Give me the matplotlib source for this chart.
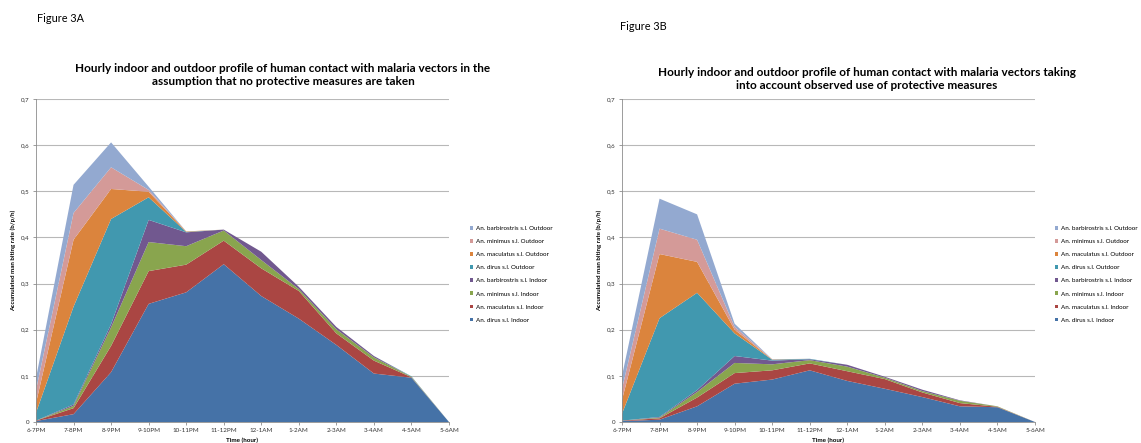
import matplotlib
matplotlib.use("Agg")
import matplotlib.pyplot as plt
from matplotlib.patches import Patch

plt.rcParams['font.family'] = ['Lato', 'DejaVu Sans']

hours = ["6-7PM", "7-8PM", "8-9PM", "9-10PM", "10-11PM", "11-12PM",
         "12-1AM", "1-2AM", "2-3AM", "3-4AM", "4-5AM", "5-6AM"]

series_names = ["An. dirus s.l. Indoor", "An. maculatus s.l. Indoor",
                "An. minimus s.l. Indoor", "An. barbirostris s.l. Indoor",
                "An. dirus s.l. Outdoor", "An. maculatus s.l. Outdoor",
                "An. minimus s.l. Outdoor", "An. barbirostris s.l. Outdoor"]

colors = ["#4572A7", "#AA4643", "#89A54E", "#71588F",
          "#4198AF", "#DB843D", "#D49A98", "#93A9D0"]

# Figure 3A: no protective measures
a_dirus_in = [0.002, 0.017, 0.108, 0.256, 0.281, 0.342, 0.273, 0.224, 0.167, 0.105, 0.096, 0]
a_macul_in = [0.001, 0.013, 0.057, 0.071, 0.060, 0.051, 0.060, 0.060, 0.025, 0.028, 0.001, 0]
a_minim_in = [0.000, 0.005, 0.040, 0.063, 0.040, 0.022, 0.018, 0.004, 0.009, 0.007, 0.001, 0]
a_barbi_in = [0.000, 0.003, 0.007, 0.048, 0.030, 0.002, 0.018, 0.005, 0.005, 0.003, 0.000, 0]
a_dirus_out = [0.017, 0.212, 0.228, 0.049, 0.001, 0.000, 0.000, 0.000, 0.000, 0.000, 0.001, 0]
a_macul_out = [0.021, 0.145, 0.065, 0.012, 0.001, 0.000, 0.000, 0.000, 0.000, 0.000, 0.000, 0]
a_minim_out = [0.028, 0.058, 0.047, 0.004, 0.000, 0.000, 0.000, 0.000, 0.000, 0.000, 0.000, 0]
a_barbi_out = [0.026, 0.061, 0.054, 0.007, 0.000, 0.000, 0.000, 0.000, 0.000, 0.000, 0.000, 0]

# Figure 3B: observed use of protective measures
b_dirus_in = [0.002, 0.005, 0.034, 0.083, 0.092, 0.112, 0.089, 0.072, 0.054, 0.034, 0.032, 0]
b_macul_in = [0.001, 0.003, 0.019, 0.023, 0.020, 0.015, 0.021, 0.021, 0.010, 0.007, 0.001, 0]
b_minim_in = [0.000, 0.0015, 0.012, 0.022, 0.013, 0.007, 0.010, 0.003, 0.003, 0.005, 0.001, 0]
b_barbi_in = [0.000, 0.0015, 0.004, 0.015, 0.008, 0.002, 0.004, 0.002, 0.003, 0.001, 0.000, 0]
b_dirus_out = [0.015, 0.214, 0.211, 0.049, 0.002, 0.001, 0.000, 0.000, 0.000, 0.000, 0.000, 0]
b_macul_out = [0.030, 0.139, 0.067, 0.008, 0.0005, 0.000, 0.000, 0.000, 0.000, 0.000, 0.000, 0]
b_minim_out = [0.024, 0.055, 0.048, 0.006, 0.0005, 0.000, 0.000, 0.000, 0.000, 0.000, 0.000, 0]
b_barbi_out = [0.028, 0.065, 0.055, 0.007, 0.000, 0.000, 0.000, 0.000, 0.000, 0.000, 0.000, 0]

y_ticks = [0, 0.1, 0.2, 0.3, 0.4, 0.5, 0.6, 0.7]
y_tick_labels = ["0", "0,1", "0,2", "0,3", "0,4", "0,5", "0,6", "0,7"]

W, H = 1141, 443
fig = plt.figure(figsize=(W / 100, H / 100), dpi=100)


def draw_panel(left_px, data, fig_label, fig_label_xy, title, title_xy, legend_xy):
    ax = fig.add_axes([left_px / W, (H - 422) / H, 413 / W, 323 / H])
    x = list(range(len(hours)))
    ax.stackplot(x, *data, colors=colors, linewidth=0)
    ax.set_xlim(0, len(hours) - 1)
    ax.set_ylim(0, 0.7)
    ax.set_yticks(y_ticks)
    ax.set_yticklabels(y_tick_labels, fontsize=4.5, color="#333333")
    ax.set_xticks(x)
    ax.set_xticklabels(hours, fontsize=4.5, color="#333333")
    ax.tick_params(axis="both", length=2.5, width=0.6, color="#8c8c8c", pad=2)
    ax.yaxis.grid(True, color="#b8b8b8", linewidth=0.8)
    ax.set_axisbelow(True)
    for s in ["top", "right"]:
        ax.spines[s].set_visible(False)
    for s in ["left", "bottom"]:
        ax.spines[s].set_color("#8c8c8c")
        ax.spines[s].set_linewidth(0.6)
    ax.set_ylabel("Accumulated man biting rate (b/p/h)", fontsize=4.5,
                  fontweight="bold", labelpad=4)
    ax.set_xlabel("Time (hour)", fontsize=4.5, fontweight="bold", labelpad=3)
    fig.text(fig_label_xy[0] / W, 1 - fig_label_xy[1] / H, fig_label,
             fontsize=7.8, ha="left", va="center")
    fig.text(title_xy[0] / W, 1 - title_xy[1] / H, title, fontsize=8.5,
             fontweight="bold", ha="center", va="center", linespacing=1.25)
    handles = [Patch(facecolor=c, edgecolor="none") for c in colors][::-1]
    labels = series_names[::-1]
    fig.legend(handles, labels, loc="upper left",
               bbox_to_anchor=(legend_xy[0] / W, 1 - legend_xy[1] / H),
               fontsize=4.5, frameon=False, handlelength=0.55,
               handleheight=0.55, handletextpad=0.4, labelspacing=1.28,
               borderaxespad=0, borderpad=0)
    return ax


draw_panel(36,
           [a_dirus_in, a_macul_in, a_minim_in, a_barbi_in,
            a_dirus_out, a_macul_out, a_minim_out, a_barbi_out],
           "Figure 3A", (37, 19),
           "Hourly indoor and outdoor profile of human contact with malaria vectors in the\n"
           "assumption that no protective measures are taken",
           (283, 75), (470, 226))

draw_panel(622,
           [b_dirus_in, b_macul_in, b_minim_in, b_barbi_in,
            b_dirus_out, b_macul_out, b_minim_out, b_barbi_out],
           "Figure 3B", (620, 27),
           "Hourly indoor and outdoor profile of human contact with malaria vectors taking\n"
           "into account observed use of protective measures",
           (867, 79), (1055, 226))

fig.savefig("out.png", dpi=100, facecolor="white")
